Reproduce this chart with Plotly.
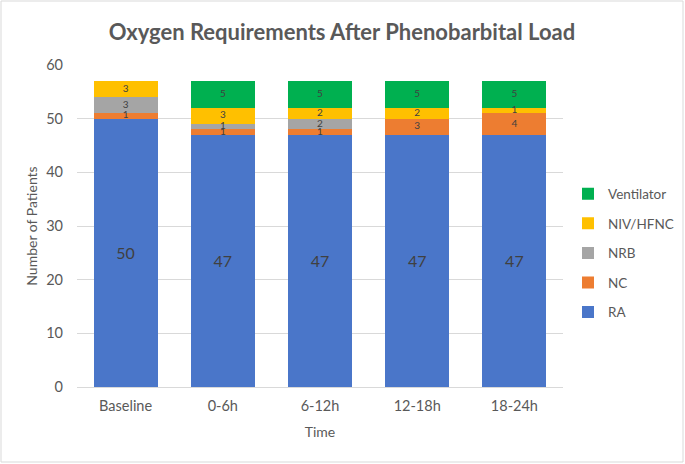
import plotly.graph_objects as go
import numpy as np

categories = ["Baseline", "0-6h", "6-12h", "12-18h", "18-24h"]
series_names = ["RA", "NC", "NRB", "NIV/HFNC", "Ventilator"]
ra = [50, 47, 47, 47, 47]
nc = [1, 1, 1, 3, 4]
nrb = [3, 1, 2, 0, 0]
niv = [3, 3, 2, 2, 1]
vent = [0, 5, 5, 5, 5]
y_ticks = [0, 10, 20, 30, 40, 50, 60]

colors = ["#4A76C9", "#ED7D31", "#A5A5A5", "#FFC000", "#00B050"]
series = [ra, nc, nrb, niv, vent]

W, H = 685, 464
L, R, T, B = 77, 122, 65, 77
pw, ph = W - L - R, H - T - B
FONT = "Lato"

fig = go.Figure()
n = len(series_names)
for i, (name, vals) in enumerate(zip(series_names, series)):
    fig.add_trace(go.Bar(
        x=categories, y=vals, name=name, marker_color=colors[i],
        marker_line_width=0, legendgroup=name, legendrank=n - i,
        text=[str(v) if (i == 0 and v) else "" for v in vals],
        textposition="inside", insidetextanchor="middle",
        textfont=dict(size=16, color="#404040", family=FONT),
        hoverinfo="skip",
    ))

# small segment labels at segment midpoints (computed from data)
cum = np.zeros(len(categories))
lx, ly, lt = [], [], []
for i, vals in enumerate(series):
    v = np.array(vals, dtype=float)
    if i > 0:
        for j, c in enumerate(categories):
            if v[j] > 0:
                lx.append(c)
                ly.append(cum[j] + v[j] / 2)
                lt.append(str(int(v[j])))
    cum += v
fig.add_trace(go.Scatter(x=lx, y=ly, text=lt, mode="text", showlegend=False,
                         textfont=dict(size=10, color="#404040", family=FONT),
                         hoverinfo="skip", cliponaxis=False))

fig.update_layout(
    width=W, height=H, barmode="stack", bargap=0.34,
    margin=dict(l=L, r=R, t=T, b=B, autoexpand=False),
    paper_bgcolor="white", plot_bgcolor="white",
    font=dict(family=FONT, color="#595959", size=14),
    title=dict(text="<b>Oxygen Requirements After Phenobarbital Load</b>",
               x=342 / W, xanchor="center", y=1 - 32 / H, yanchor="middle",
               font=dict(size=22, color="#595959", family=FONT)),
    legend=dict(x=(568 - L) / pw, y=(H - B - 253) / ph, xanchor="left", yanchor="middle",
                traceorder="grouped", tracegroupgap=9, itemwidth=30,
                font=dict(size=13.5, color="#595959"), bgcolor="rgba(0,0,0,0)"),
    xaxis=dict(title=dict(text="Time", font=dict(size=14, color="#595959"), standoff=13),
               showline=True, linecolor="#D9D9D9", linewidth=1, ticks="",
               ticklabelstandoff=6,
               tickfont=dict(size=14.5, color="#595959")),
    yaxis=dict(title=dict(text="Number of Patients", font=dict(size=14, color="#595959"), standoff=5),
               range=[0, 60], tickvals=y_ticks, showgrid=True, gridcolor="#D9D9D9",
               zeroline=False, showline=False, ticks="", ticklabelstandoff=13,
               tickfont=dict(size=14.5, color="#595959")),
    shapes=[dict(type="rect", xref="paper", yref="paper",
                 x0=(1 - L) / pw, x1=(W - 2 - L) / pw,
                 y0=-(B - 2) / ph, y1=1 + (T - 1) / ph,
                 line=dict(color="#D9D9D9", width=1), layer="below")],
)

fig.write_html("out.html", config={"displayModeBar": False},
               post_script="document.body.style.margin='0';")
